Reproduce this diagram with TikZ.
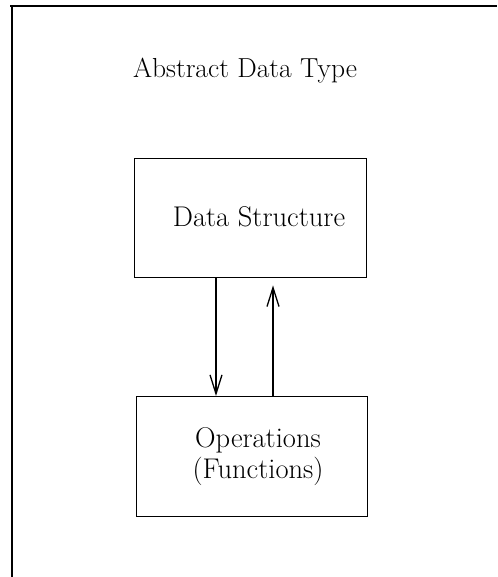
\documentclass[tikz,border=0pt]{standalone}
\usetikzlibrary{arrows.meta}
\begin{document}
\begin{tikzpicture}[x=1pt,y=-1pt,
  box/.style={draw,line width=1.4pt,minimum width=232pt,minimum height=119pt,inner sep=0pt,anchor=north west},
  lbl/.style={font=\fontsize{28.5}{31}\selectfont,inner sep=0pt,align=center},
  arr/.style={line width=1.3pt,-{Straight Barb[length=19pt,width=12pt,line width=1.3pt]}},
  frame/.style={line width=1.8pt}]
\useasboundingbox (0,0) rectangle (497,577);
\coordinate (ftl) at (12,6);
\coordinate (ftr) at (497,6);
\coordinate (fbl) at (12,577);
\draw[frame] (10,6) -- (ftr);
\draw[frame] (ftl) -- (fbl);
\node[lbl,font=\fontsize{27.5}{31}\selectfont] (title) at (245,71) {Abstract Data Type};
\node[box] (ds) at (134,158) {};
\node[lbl] (dstext) at (259,217) {Data Structure};
\node[box,minimum width=231pt,minimum height=120pt] (ops) at (136,396) {};
\node[lbl] (opstext) at (258,457) {Operations\\(Functions)};
\draw[arr] ([xshift=82pt]ds.south west) -- ([xshift=80pt]ops.north west);
\draw[arr,line width=1.1pt] ([xshift=137pt]ops.north west) -- ([xshift=139pt,yshift=-7pt]ds.south west);
\end{tikzpicture}
\end{document}
